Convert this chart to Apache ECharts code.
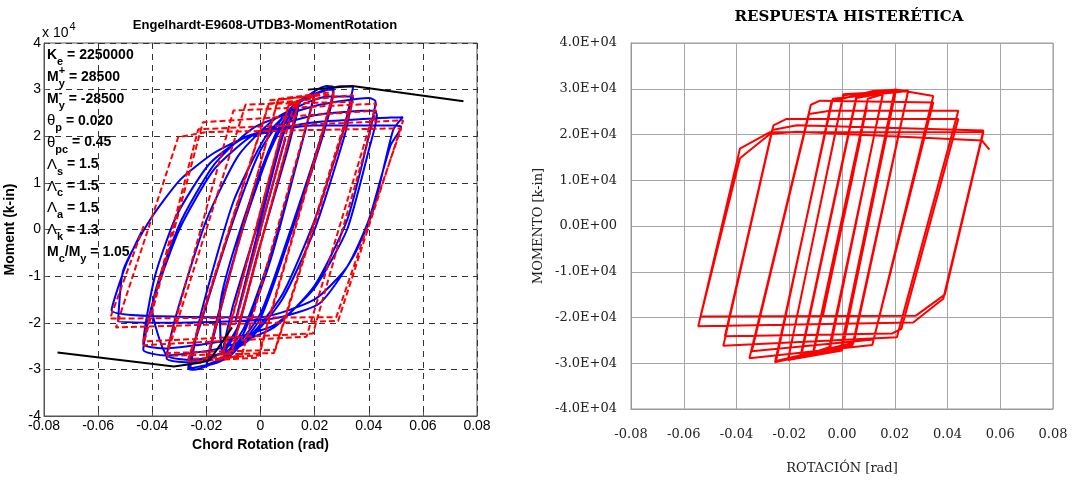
<!DOCTYPE html>
<html>
<head>
<meta charset="utf-8">
<script src="https://cdn.jsdelivr.net/npm/echarts@6/dist/echarts.min.js"></script>
<style>
  html, body { margin: 0; background: #fff; }
  #main { width: 1078px; height: 480px; }
</style>
</head>
<body>
<div id="main"></div>
<script>
// ---- data: [rotation (rad), moment (k-in)] ----

// left panel, blue solid (test)
const testLoop = [
  [0, 0], [0.0045, 9500], [-0.0045, -9500], [0.0045, 9500], [-0.0045, -9500],
  [0.0068, 14500], [-0.0068, -14500], [0.0068, 14500], [-0.0068, -14500],
  [0.0092, 19500], [-0.0092, -19500], [0.0092, 19500], [-0.0092, -19500],
  [0.0010, 4000], [0.0085, 20500], [0.0140, 26000],
  [0.0095, 16000], [-0.0010, -5000], [-0.0085, -21000], [-0.0140, -26000],
  [-0.0100, -16000], [0.0010, 5000], [0.0085, 21000], [0.0140, 26500],
  [0.0100, 17000], [-0.0010, -5000], [-0.0085, -21500], [-0.0140, -26500],
  [-0.0150, -17000], [-0.0040, 6000], [0.0060, 20000], [0.0140, 27000], [0.0200, 29000],
  [0.0160, 20000], [0.0040, -5000], [-0.0060, -21000], [-0.0140, -27500], [-0.0200, -29000],
  [-0.0160, -20000], [-0.0040, 6000], [0.0060, 21000], [0.0140, 27500], [0.0200, 29200],
  [0.0160, 20000], [0.0040, -6000], [-0.0060, -22000], [-0.0140, -28000], [-0.0200, -29200],
  [-0.0160, -19000], [-0.0050, 3000], [0.0050, 19000], [0.0150, 27500], [0.0244, 30800], [0.0270, 30500],
  [0.0230, 21000], [0.0100, -2000], [0.0000, -18000], [-0.0120, -27000], [-0.0249, -30100], [-0.0267, -29800],
  [-0.0220, -20000], [-0.0100, 2000], [0.0000, 17000], [0.0120, 26500], [0.0250, 30000], [0.0270, 29800],
  [0.0230, 20000], [0.0100, -3000], [0.0000, -19000], [-0.0120, -27500], [-0.0260, -29800],
  [-0.0220, -18000], [-0.0100, 6000], [0.0020, 20000], [0.0150, 27500], [0.0300, 30700], [0.0342, 30600],
  [0.0310, 22000], [0.0200, 2000], [0.0080, -14000], [-0.0060, -24000], [-0.0250, -28500], [-0.0347, -27600],
  [-0.0310, -18000], [-0.0200, 2000], [-0.0080, 16000], [0.0060, 24000], [0.0250, 28500], [0.0342, 28500],
  [0.0310, 20000], [0.0200, 0], [0.0080, -15000], [-0.0060, -24500], [-0.0250, -28000], [-0.0347, -27000],
  [-0.0400, -17000], [-0.0300, 1000], [-0.0170, 14000], [-0.0020, 22000], [0.0200, 26500], [0.0400, 28200], [0.0425, 27500],
  [0.0400, 20000], [0.0320, 2000], [0.0200, -12000], [0.0050, -21000], [-0.0150, -25500], [-0.0350, -27000], [-0.0433, -25800],
  [-0.0400, -16000], [-0.0300, 0], [-0.0170, 13000], [-0.0020, 20500], [0.0200, 24500], [0.0420, 25500], [0.0430, 24500],
  [0.0400, 17000], [0.0320, 0], [0.0200, -12500], [0.0050, -20500], [-0.0150, -24000], [-0.0360, -25500], [-0.0433, -24500],
  [-0.0390, -10000], [-0.0310, 3000], [-0.0190, 14000], [-0.0050, 20000], [0.0200, 23000], [0.0480, 24000], [0.0526, 24100],
  [0.0490, 21300], [0.0416, 4100], [0.0342, -5900], [0.0219, -15800], [0.0047, -19100], [-0.0298, -20000], [-0.0526, -19800],
  [-0.0507, -8700], [-0.0409, 2000], [-0.0298, 10600], [-0.0175, 16300], [-0.0052, 19800], [0.0194, 22300], [0.0490, 22300], [0.0520, 22000],
  [0.0480, 18000], [0.0400, 2000], [0.0320, -8000], [0.0200, -15000], [0.0000, -18800], [-0.0300, -18700], [-0.0550, -17300],
  [-0.0500, -8000], [-0.0440, -500]
];

// left panel, red dashed (model)
const modelLoop = [
  [0, 0], [0.0046, 10000], [-0.0046, -10000], [0.0046, 10000], [-0.0046, -10000],
  [0.0069, 15000], [-0.0069, -15000], [0.0069, 15000], [-0.0069, -15000],
  [0.0092, 20000], [-0.0092, -20000], [0.0092, 20000], [-0.0092, -20000],
  [0.0121, 26300], [0.0140, 27000], [-0.0104, -26000], [-0.0140, -26800],
  [0.0104, 26600], [0.0140, 27200], [-0.0106, -26200], [-0.0142, -27000],
  [0.0105, 27000], [0.0200, 28500], [-0.0070, -27000], [-0.0200, -28000],
  [0.0065, 27800], [0.0200, 28800], [-0.0070, -27200], [-0.0200, -28200],
  [0.0065, 28000], [0.0270, 29500], [-0.0010, -27500], [-0.0267, -28300],
  [0.0035, 27700], [0.0270, 29000], [-0.0005, -27000], [-0.0267, -27800],
  [0.0030, 27000], [0.0342, 28800], [0.0050, -26500], [-0.0347, -27100],
  [-0.0055, 26800], [0.0342, 27400], [0.0055, -25800], [-0.0347, -26500],
  [-0.0100, 25500], [0.0428, 27000], [0.0170, -23000], [-0.0433, -24800],
  [-0.0213, 23000], [0.0428, 25500], [0.0194, -22300], [-0.0433, -24000],
  [-0.0230, 21500], [0.0527, 23400], [0.0287, -19600], [-0.0534, -21000],
  [-0.0304, 19800], [-0.0200, 20900], [0.0520, 21700], [0.0280, -18800], [-0.0556, -19100],
  [-0.0430, 1000]
];

// left panel, black backbone
const backboneTop = [[0.0175, 30000], [0.0340, 30800], [0.0750, 27500]];
const backboneBottom = [[-0.0750, -26400], [-0.0320, -29400], [-0.0224, -28600], [-0.0187, -28000], [-0.0105, -21000]];

// right panel, red solid
const responseLoop = [
  [0, 0], [0.0045, 12000], [-0.0045, -12000], [0.0045, 12000], [-0.0045, -12000],
  [0.0070, 19000], [-0.0072, -19500], [0.0070, 19000], [-0.0072, -19500],
  [0.0094, 26000], [-0.0105, -27000], [0.0094, 26500], [-0.0108, -27200],
  [0.0098, 27800], [0.0155, 28800], [-0.0048, -26500], [-0.0155, -28500],
  [0.0055, 28000], [0.0155, 29000], [-0.0045, -26800], [-0.0158, -28600],
  [0.0055, 28500], [0.0200, 29800], [-0.0005, -27000], [-0.0205, -29200],
  [0.0005, 28600], [0.0205, 29800], [0.0000, -27200], [-0.0205, -29300],
  [0.0005, 28800], [0.0251, 29600], [0.0040, -26000], [-0.0254, -29800],
  [-0.0035, 27800], [0.0251, 29500], [0.0045, -25500], [-0.0250, -29500],
  [-0.0040, 27200], [0.0118, 29500], [0.0208, 29800], [0.0346, 28400], [0.0115, -26000], [-0.0351, -28900],
  [-0.0118, 26500], [-0.0083, 27400], [0.0346, 27000], [0.0120, -24800], [-0.0342, -27400],
  [-0.0125, 24500], [-0.0045, 25200], [0.0441, 25200], [0.0208, -24300], [-0.0450, -26200],
  [-0.0260, 22000], [-0.0210, 23400], [0.0441, 23400], [0.0225, -22500], [0.0190, -23500], [-0.0444, -24100],
  [-0.0265, 21000], [-0.0170, 22000], [0.0536, 20900], [0.0384, -15900], [0.0270, -21100], [-0.0545, -21900],
  [-0.0387, 16900], [-0.0273, 20500], [0.0536, 20500], [0.0390, -15000], [0.0280, -19600], [-0.0536, -19800],
  [-0.0387, 14800], [-0.0273, 20100], [-0.0172, 20600], [0.0530, 18700], [0.0559, 16700]
];

// parameter block printed on the left panel: [text, kind, stacked sub]
const paramLines = [
  [['K', 'n'], ['e', 'sub'], [' = 2250000', 'n']],
  [['M', 'n'], ['+', 'sup', 'y'], [' = 28500', 'n']],
  [['M', 'n'], ['-', 'sup', 'y'], [' = -28500', 'n']],
  [['θ', 'g'], ['p', 'sub'], [' = 0.020', 'n']],
  [['θ', 'g'], ['pc', 'sub'], [' = 0.45', 'n']],
  [['Λ', 'g'], ['s', 'sub'], [' = 1.5', 'n']],
  [['Λ', 'g'], ['c', 'sub'], [' = 1.5', 'n']],
  [['Λ', 'g'], ['a', 'sub'], [' = 1.5', 'n']],
  [['Λ', 'g'], ['k', 'sub'], [' = 1.3', 'n']],
  [['M', 'n'], ['c', 'sub'], ['/M', 'n'], ['y', 'sub'], [' = 1.05', 'n']]
];

const SANS = '"Liberation Sans", Arial, sans-serif';
const SERIF = '"DejaVu Serif", Georgia, serif';

// measure text so subscripts sit right after their letter
const ctx = document.createElement('canvas').getContext('2d');
function textWidth(t, font) { ctx.font = font; return ctx.measureText(t).width; }

const fonts = {
  n: 'bold 14px ' + SANS,
  g: '15px ' + SANS,
  sub: 'bold 11px ' + SANS,
  sup: 'bold 11px ' + SANS
};

const graphics = [];
paramLines.forEach((line, i) => {
  const y = 55 + i * 21.9;
  let x = 47;
  line.forEach(seg => {
    const kind = seg[1];
    const dy = kind === 'sub' ? 7 : (kind === 'sup' ? -6 : 0);
    graphics.push({
      type: 'text', x: x, y: y + dy, z: 100,
      style: { text: seg[0], font: fonts[kind], fill: '#000', textVerticalAlign: 'middle', verticalAlign: 'middle' }
    });
    let adv = textWidth(seg[0], fonts[kind]);
    if (seg[2]) {
      graphics.push({
        type: 'text', x: x, y: y + 7, z: 100,
        style: { text: seg[2], font: fonts.sub, fill: '#000', textVerticalAlign: 'middle', verticalAlign: 'middle' }
      });
      adv = Math.max(adv, textWidth(seg[2], fonts.sub));
    }
    x += adv;
  });
});

// "x 10^4" exponent note
graphics.push({
  type: 'text', x: 42, y: 33,
  style: { text: 'x 10', font: '14px ' + SANS, fill: '#000', textVerticalAlign: 'middle', verticalAlign: 'middle' }
});
graphics.push({
  type: 'text', x: 42 + textWidth('x 10', '14px ' + SANS) + 1, y: 27,
  style: { text: '4', font: '11px ' + SANS, fill: '#000', textVerticalAlign: 'middle', verticalAlign: 'middle' }
});

const chart = echarts.init(document.getElementById('main'));

const option = {
  animation: false,
  backgroundColor: '#fff',
  title: [
    {
      text: 'Engelhardt-E9608-UTDB3-MomentRotation',
      left: 260, top: 14, textAlign: 'center',
      textStyle: { fontFamily: SANS, fontSize: 13, fontWeight: 'bold', color: '#000' }
    },
    {
      text: 'RESPUESTA HISTERÉTICA',
      left: 844, top: 5, textAlign: 'center',
      textStyle: { fontFamily: SERIF, fontSize: 15, fontWeight: 'bold', color: '#000' }
    }
  ],
  grid: [
    { left: 44, top: 43, width: 433, height: 373, show: true, borderColor: '#555', borderWidth: 1, backgroundColor: '#fff' },
    { left: 631, top: 43, width: 422, height: 372, show: true, borderColor: '#999', borderWidth: 1, backgroundColor: '#fff' }
  ],
  xAxis: [
    {
      gridIndex: 0, type: 'value', min: -0.08, max: 0.08, interval: 0.02,
      name: 'Chord Rotation (rad)', nameLocation: 'middle', nameGap: 22,
      nameTextStyle: { fontFamily: SANS, fontSize: 14, fontWeight: 'bold', color: '#000' },
      axisLine: { show: true, onZero: false, lineStyle: { color: '#555' } },
      axisTick: { show: true, inside: true, length: 4, lineStyle: { color: '#555' } },
      axisLabel: {
        margin: 3, fontFamily: SANS, fontSize: 14, color: '#000',
        formatter: v => (Math.abs(v) < 1e-9 ? '0' : String(+v.toFixed(2)))
      },
      splitLine: { show: true, lineStyle: { color: '#333', type: [6, 5], width: 1 } }
    },
    {
      gridIndex: 1, type: 'value', min: -0.08, max: 0.08, interval: 0.02,
      name: 'ROTACIÓN [rad]', nameLocation: 'middle', nameGap: 53,
      nameTextStyle: { fontFamily: SERIF, fontSize: 13, color: '#222' },
      axisLine: { show: true, onZero: false, lineStyle: { color: '#999' } },
      axisTick: { show: false },
      axisLabel: {
        margin: 19, fontFamily: SERIF, fontSize: 13, color: '#222',
        formatter: v => (Math.abs(v) < 1e-9 ? 0 : v).toFixed(2)
      },
      splitLine: { show: true, lineStyle: { color: '#a6a6a6', width: 1 } }
    }
  ],
  yAxis: [
    {
      gridIndex: 0, type: 'value', min: -40000, max: 40000, interval: 10000,
      name: 'Moment (k-in)', nameLocation: 'middle', nameGap: 27, nameRotate: 90,
      nameTextStyle: { fontFamily: SANS, fontSize: 14, fontWeight: 'bold', color: '#000' },
      axisLine: { show: true, onZero: false, lineStyle: { color: '#555' } },
      axisTick: { show: true, inside: true, length: 4, lineStyle: { color: '#555' } },
      axisLabel: {
        margin: 3, fontFamily: SANS, fontSize: 14, color: '#000',
        formatter: v => String(Math.round(v / 10000))
      },
      splitLine: { show: true, lineStyle: { color: '#333', type: [6, 5], width: 1 } }
    },
    {
      gridIndex: 1, type: 'value', min: -40000, max: 40000, interval: 10000,
      name: 'MOMENTO [k-in]', nameLocation: 'middle', nameGap: 86, nameRotate: 90,
      nameTextStyle: { fontFamily: SERIF, fontSize: 13, color: '#222' },
      axisLine: { show: true, onZero: false, lineStyle: { color: '#999' } },
      axisTick: { show: false },
      axisLabel: {
        margin: 14, fontFamily: SERIF, fontSize: 13, color: '#222',
        formatter: v => (v === 0 ? '0.0E+00' : (v / 10000).toFixed(1) + 'E+04')
      },
      splitLine: { show: true, lineStyle: { color: '#a6a6a6', width: 1 } }
    }
  ],
  series: [
    {
      name: 'test', type: 'line', xAxisIndex: 0, yAxisIndex: 0, data: testLoop,
      symbol: 'none', smooth: 0.2, lineStyle: { color: '#0000ff', width: 2 }, z: 2
    },
    {
      name: 'model', type: 'line', xAxisIndex: 0, yAxisIndex: 0, data: modelLoop,
      symbol: 'none', lineStyle: { color: '#ff0000', width: 2, type: [6, 3] }, z: 3
    },
    {
      name: 'backbone+', type: 'line', xAxisIndex: 0, yAxisIndex: 0, data: backboneTop,
      symbol: 'none', lineStyle: { color: '#000', width: 2 }, z: 4
    },
    {
      name: 'backbone-', type: 'line', xAxisIndex: 0, yAxisIndex: 0, data: backboneBottom,
      symbol: 'none', lineStyle: { color: '#000', width: 2 }, z: 4
    },
    {
      name: 'respuesta', type: 'line', xAxisIndex: 1, yAxisIndex: 1, data: responseLoop,
      symbol: 'none', lineStyle: { color: '#ff0000', width: 2 }, z: 3
    }
  ],
  graphic: graphics
};

chart.setOption(option);
</script>
</body>
</html>
